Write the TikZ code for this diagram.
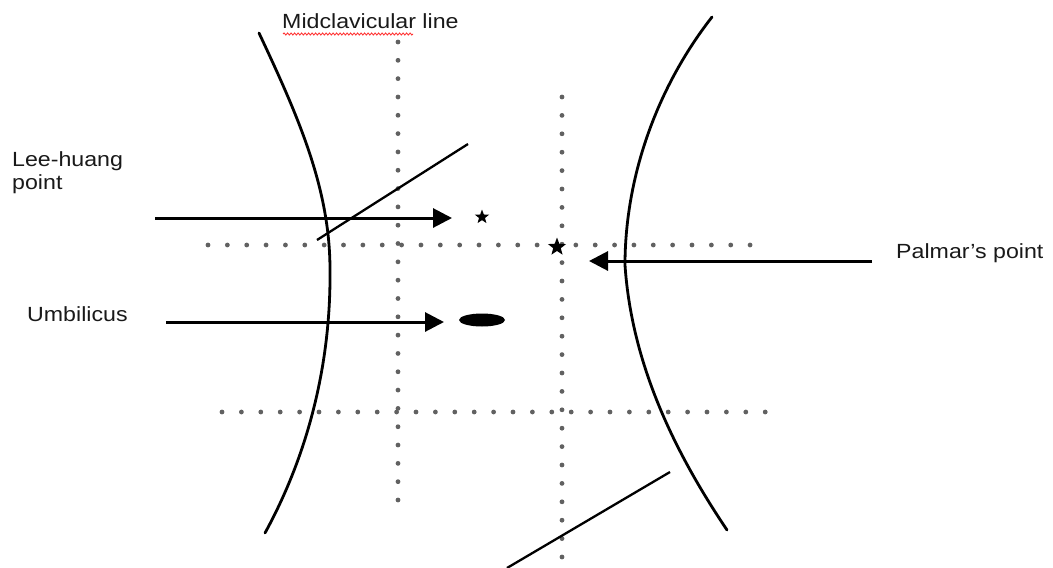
\documentclass[tikz,border=0pt]{standalone}
\usepackage{fontspec}
\setmainfont{Liberation Sans}
\usetikzlibrary{arrows.meta,shapes.geometric,decorations.pathmorphing}
\begin{document}
\begin{tikzpicture}[x=1pt,y=-1pt,
  curve/.style={line width=2.8pt,line cap=round},
  diag/.style={line width=2.3pt},
  pointer/.style={line width=3pt,-{Triangle[length=19pt,width=19pt]}},
  gdot/.style={fill=black!62},
  lbl/.style={font=\fontsize{20.5}{23}\selectfont, xscale=1.13, inner sep=0pt, text=black!90},
  starpt/.style={star, star points=5, star point ratio=2.4, fill=black, inner sep=0pt}
]
\useasboundingbox (0,0) rectangle (1053,568);
\clip (0,0) rectangle (1053,568);

% body outline curves
\draw[curve] (259,33) .. controls (300,120) and (330,190) .. (330,270) .. controls (331,370) and (305,460) .. (265,533);
\draw[curve] (712,17) .. controls (655,90) and (625,180) .. (625,265) .. controls (632,370) and (680,460) .. (727,530);

% dotted reference lines
\foreach \i in {0,...,25} \fill[gdot] (398,42+\i*18.32) circle (2.4pt);
\foreach \i in {0,...,25} \fill[gdot] (562,97+\i*18.4) circle (2.4pt);
\foreach \i in {0,...,28} \fill[gdot] (208+\i*19.36,245) circle (2.4pt);
\foreach \i in {0,...,28} \fill[gdot] (222+\i*19.4,412) circle (2.4pt);

% oblique lines
\coordinate (d1a) at (317,240);
\coordinate (d1b) at (468,144);
\draw[diag] (d1a) -- (d1b);
\coordinate (d2a) at (507,568);
\coordinate (d2b) at (670,472);
\draw[diag] (d2a) -- (d2b);

% markers
\node[starpt, minimum size=15pt] (lh) at (482,217) {};
\node[starpt, minimum size=19pt] (pp) at (557,247) {};
\node[ellipse, fill=black, minimum width=46pt, minimum height=13pt, inner sep=0pt] (umb) at (482,320) {};

% labels
\node[lbl, anchor=base west] (mcl) at (282,28) {Midclavicular line};
\draw[red!80, line width=0.9pt, decorate, decoration={snake, amplitude=1pt, segment length=3.5pt}] (283,34) -- (413,34);
\node[lbl, anchor=base west, align=left] (lhl) at (12,189) {Lee-huang\\point};
\node[lbl, anchor=base west] (uml) at (27,321) {Umbilicus};
\node[lbl, anchor=base west] (ppl) at (896,258) {Palmar’s point};

% arrows
\coordinate (a1s) at (155,218);
\coordinate (a1e) at (452,218);
\draw[pointer] (a1s) -- (a1e);
\coordinate (a2s) at (166,322);
\coordinate (a2e) at (444,322);
\draw[pointer] (a2s) -- (a2e);
\coordinate (a3s) at (872,261);
\coordinate (a3e) at (589,261);
\draw[pointer] (a3s) -- (a3e);
\end{tikzpicture}
\end{document}
